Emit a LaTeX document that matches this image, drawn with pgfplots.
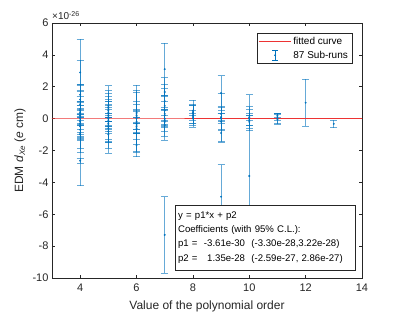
\documentclass[border=0pt]{standalone}
\usepackage{pgfplots}
\pgfplotsset{compat=1.18}
\usepackage{pgfplotstable}
\usepackage{fontspec}
\setmainfont{Liberation Sans}
\definecolor{mblue}{rgb}{0,0.447,0.741}
\definecolor{mred}{rgb}{0.93,0.2,0.2}
\definecolor{axgray}{rgb}{0.15,0.15,0.15}

\pgfplotstableread{
x y e
4 0.4 4.6
4 2.9 0.77
4 1.5 0.65
4 1.2 0.55
4 0.9 0.8
4 0.6 0.5
4 0.3 0.7
4 0.1 0.45
4 -0.1 0.6
4 -0.3 0.55
4 -0.5 0.75
4 -0.2 1.0
4 0.2 1.2
4 -0.7 0.6
4 -0.9 0.45
4 0.5 1.6
4 -0.4 1.45
4 -1.0 1.14
4 -2.64 0.15
4 0.0 0.3
5 0.1 1.96
5 -0.2 1.96
5 0.8 0.6
5 0.5 0.7
5 0.3 0.5
5 0.0 0.6
5 -0.1 0.4
5 -0.4 0.5
5 -0.6 0.7
5 0.2 0.9
5 -0.3 1.2
5 0.6 1.0
5 -0.8 0.6
5 0.4 0.3
5 -1.0 0.5
5 0.7 0.4
5 -0.5 0.3
6 0.0 2.1
6 -0.3 2.1
6 0.4 1.25
6 0.2 0.9
6 -0.2 0.7
6 -0.4 0.5
6 -0.6 0.3
6 -0.5 1.1
6 0.1 0.35
6 -0.3 0.35
6 -1.66 0.37
6 0.3 0.6
7 3.1 1.65
7 -7.3 2.4
7 1.1 1.47
7 0.8 1.37
7 1.67 0.2
7 0.5 0.6
7 0.2 0.4
7 0.0 0.5
7 -0.2 0.9
7 -0.4 0.95
7 0.3 1.1
7 -0.1 0.3
8 0.3 0.85
8 0.4 0.5
8 0.2 0.6
8 0.1 0.4
8 0.5 0.3
8 0.0 0.3
9 1.6 1.09
9 0.0 0.75
9 0.1 1.5
9 -0.2 0.5
9 0.3 0.4
9 -0.9 0.57
9 -4.9 2.0
9 0.05 0.25
10 -3.6 5.1
10 0.0 0.75
10 -0.1 0.3
10 0.1 0.2
10 -0.2 0.4
10 0.05 0.5
11 0.0 0.33
11 0.1 0.2
11 -0.05 0.31
11 0.2 0.1
12 1.0 1.47
13 -0.33 0.24
}\runs

\pgfplotstableread{
x y
3 0.0124
14 0.0084
}\fit

\begin{document}
\begin{tikzpicture}
\useasboundingbox (-52pt,-37pt) rectangle (347pt,278pt);
\begin{axis}[
  at={(0pt,0pt)}, anchor=south west,
  scale only axis, width=310pt, height=255pt,
  xmin=3, xmax=14, ymin=-10, ymax=6,
  xtick={4,6,...,14}, ytick={-10,-8,...,6},
  tick align=inside, major tick length=3pt,
  axis line style={axgray, line width=0.5pt},
  tick style={axgray, line width=0.5pt},
  ticklabel style={font=\fontsize{11}{13}\selectfont, text=axgray},
  xticklabel style={yshift=-2pt},
  /pgf/number format/assume math mode=true,
  xlabel={Value of the polynomial order},
  ylabel={EDM \textit{d}\textsubscript{\textit{Xe}} (\textit{e} cm)},
  label style={font=\fontsize{12}{14}\selectfont, text=axgray},
  xlabel style={yshift=-3pt},
  legend style={at={(0.968,0.961)}, anchor=north east, draw=axgray, fill=white,
    font=\fontsize{10}{12}\selectfont, row sep=1pt, inner sep=2pt},
  legend cell align=left,
  clip=true,
]
\addlegendimage{legend image code/.code={\draw[mred, line width=0.6pt] (0pt,0pt) -- (32pt,0pt);}}
\addlegendentry{fitted curve}
\addlegendimage{legend image code/.code={\draw[mblue, line width=0.7pt] (16pt,-5pt) -- (16pt,5pt) (13pt,5pt) -- (19pt,5pt) (13pt,-5pt) -- (19pt,-5pt); \fill[mblue] (16pt,0pt) circle (0.8pt);}}
\addlegendentry{87 Sub-runs}

\addplot[forget plot, only marks, mark=*, mark size=0.75pt, mblue,
  mark options={fill=mblue, draw=none},
  error bars/.cd, y dir=both, y explicit,
  error bar style={mblue, opacity=0.6, line width=0.8pt},
  error mark options={rotate=90, mark size=3.5pt, mblue, opacity=0.6, line width=0.8pt}]
  table[x=x, y=y, y error=e] {\runs};

\addplot[forget plot, mred, line width=0.6pt] table[x=x, y=y] {\fit};

\node[anchor=north west, draw=axgray, fill=white, line width=0.5pt,
  minimum width=180pt, minimum height=65pt, text width=174pt, align=left,
  inner xsep=3pt, font=\fontsize{9.6}{14.3}\selectfont, text=black]
  at (axis cs:7.36,-5.4) {y = p1*x + p2\\
Coefficients (with 95\% C.L.):\\
p1 = \ -3.61e-30 \ (-3.30e-28,3.22e-28)\\
p2 = \ \phantom{-}1.35e-28 \ (-2.59e-27, 2.86e-27)};
\end{axis}
\node[anchor=south west, font=\fontsize{10}{12}\selectfont, text=axgray, inner sep=0pt] at (0pt,258pt) {×10\textsuperscript{-26}};
\end{tikzpicture}
\end{document}
